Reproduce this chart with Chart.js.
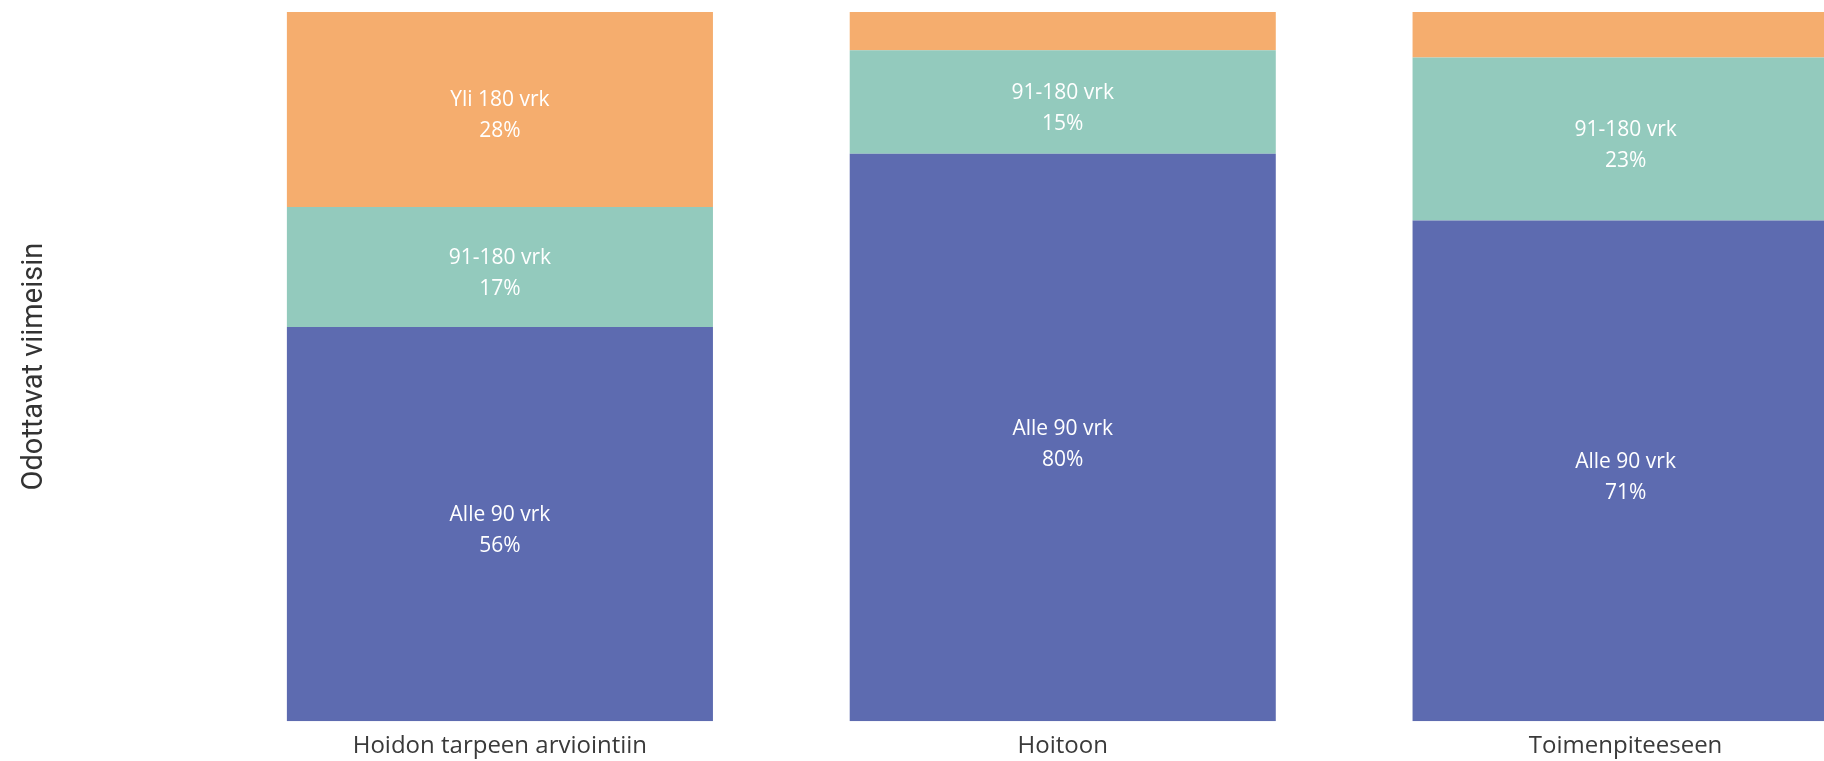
<!DOCTYPE html>
<html>
<head>
<meta charset="utf-8">
<script src="https://cdn.jsdelivr.net/npm/chart.js@4"></script>
<style>
  html, body { margin: 0; padding: 0; background: #ffffff; overflow: hidden; }
  #wrap { position: relative; width: 1907px; height: 761px; }
</style>
</head>
<body>
<div id="wrap"><canvas id="c"></canvas></div>
<script>
const categories = ["Hoidon tarpeen arviointiin", "Hoitoon", "Toimenpiteeseen"];
const seriesNames = ["Alle 90 vrk", "91-180 vrk", "Yli 180 vrk"];
const alle90 = [55.6, 80.0, 70.6];
const v91to180 = [16.9, 14.6, 23.0];
const yli180 = [27.5, 5.4, 6.4];
const yTitle = "Odottavat viimeisin";
const colors = ["#5D6BB0", "#93CABD", "#F5AD6E"];

const labelPlugin = {
  id: 'segLabels',
  afterDatasetsDraw(chart) {
    const ctx = chart.ctx;
    ctx.save();
    ctx.fillStyle = '#ffffff';
    ctx.textAlign = 'center';
    ctx.textBaseline = 'middle';
    ctx.font = '21px "Open Sans", sans-serif';
    chart.data.datasets.forEach((ds, di) => {
      const meta = chart.getDatasetMeta(di);
      meta.data.forEach((bar, i) => {
        const v = ds.data[i];
        if (v < 10) return;
        const p = bar.getProps(['x', 'y', 'base'], true);
        const cy = (p.y + p.base) / 2 + 7;
        ctx.fillText(ds.label, p.x, cy - 16);
        ctx.fillText(Math.round(v) + '%', p.x, cy + 15);
      });
    });
    ctx.restore();
  }
};

new Chart(document.getElementById('c'), {
  type: 'bar',
  data: {
    labels: categories,
    datasets: [
      { label: seriesNames[0], data: alle90, backgroundColor: colors[0] },
      { label: seriesNames[1], data: v91to180, backgroundColor: colors[1] },
      { label: seriesNames[2], data: yli180, backgroundColor: colors[2] }
    ]
  },
  options: {
    responsive: true,
    maintainAspectRatio: false,
    animation: false,
    layout: { padding: { top: 12, bottom: -11, left: 0, right: 0 } },
    datasets: { bar: { barPercentage: 1, categoryPercentage: 0.757 } },
    plugins: { legend: { display: false }, tooltip: { enabled: false } },
    scales: {
      x: {
        stacked: true,
        grid: { display: false, drawTicks: false },
        border: { display: false },
        ticks: { color: '#3a3a3a', padding: 11, font: { family: '"Open Sans", sans-serif', size: 24 }, maxRotation: 0 }
      },
      y: {
        stacked: true,
        min: 0, max: 100,
        grid: { display: false, drawTicks: false },
        border: { display: false },
        ticks: { display: false },
        title: { display: true, text: yTitle, color: '#333333', padding: { top: 17, bottom: 0 }, font: { family: 'Roboto, sans-serif', size: 29 } },
        afterFit(scale) { scale.width = 218.5; }
      }
    }
  },
  plugins: [labelPlugin]
});
</script>
</body>
</html>
